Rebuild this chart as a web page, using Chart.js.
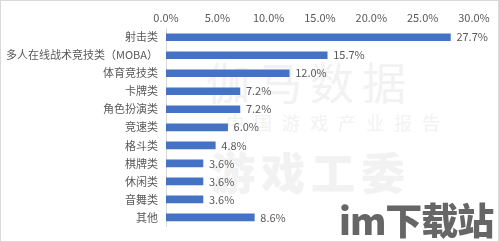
<!DOCTYPE html>
<html>
<head>
<meta charset="utf-8">
<script src="https://cdn.jsdelivr.net/npm/chart.js@4.4.0/dist/chart.umd.min.js"></script>
<style>
  html, body { margin: 0; padding: 0; background: #fff; }
  #wrap { position: relative; width: 499px; height: 242px; box-sizing: border-box; border: 1px solid #d9d9d9; overflow: hidden; }
  canvas { position: absolute; left: 0; top: 0; }
  .wm { position: absolute; color: #f2f2f2; font-family: "Noto Sans CJK SC", sans-serif; white-space: nowrap; }
  #im { position: absolute; left: 338px; top: 196px; font-family: "Noto Sans CJK SC", sans-serif; font-weight: 900; font-size: 37px; line-height: 44px; color: #666; letter-spacing: -1px; white-space: nowrap; }
</style>
</head>
<body>
<div id="wrap">
  <div class="wm" style="left:205px; top:48px; font-size:44px; letter-spacing:8px;">伽马数据</div>
  <div class="wm" style="left:225px; top:108px; font-size:18px; letter-spacing:10px;">中国游戏产业报告</div>
  <div class="wm" style="left:210px; top:138px; font-size:44px; font-weight:900; letter-spacing:6px;">游戏工委</div>
  <canvas id="chart" width="497" height="240"></canvas>
  <div id="im">im下载站</div>
</div>
<script>
const categories = ['射击类', '多人在线战术竞技类（MOBA）', '体育竞技类', '卡牌类', '角色扮演类', '竞速类', '格斗类', '棋牌类', '休闲类', '音舞类', '其他'];
const shares = [27.7, 15.7, 12.0, 7.2, 7.2, 6.0, 4.8, 3.6, 3.6, 3.6, 8.6];
const tickLabels = ['0.0%', '5.0%', '10.0%', '15.0%', '20.0%', '25.0%', '30.0%'];

const textColor = '#595959';
const fontFamily = '"Noto Sans CJK SC", "Noto Sans", sans-serif';

// draw value labels at the end of each bar
const valueLabels = {
    id: 'valueLabels',
    afterDatasetsDraw: function (chart) {
        const ctx = chart.ctx;
        const meta = chart.getDatasetMeta(0);
        ctx.save();
        ctx.fillStyle = textColor;
        ctx.font = '11px ' + fontFamily;
        ctx.textAlign = 'left';
        ctx.textBaseline = 'middle';
        meta.data.forEach(function (bar, i) {
            ctx.fillText(shares[i].toFixed(1) + '%', bar.x + 6, bar.y);
        });
        ctx.restore();
    }
};

const ctx = document.getElementById('chart').getContext('2d');
new Chart(ctx, {
    type: 'bar',
    data: {
        labels: categories,
        datasets: [{
            data: shares,
            backgroundColor: '#4472c4',
            barThickness: 7
        }]
    },
    options: {
        indexAxis: 'y',
        responsive: false,
        animation: false,
        layout: { padding: { top: 6, right: 24, bottom: 10, left: 0 } },
        plugins: {
            legend: { display: false },
            tooltip: { enabled: false }
        },
        scales: {
            x: {
                position: 'top',
                min: 0,
                max: 30,
                ticks: {
                    stepSize: 5,
                    color: textColor,
                    font: { size: 11, family: fontFamily },
                    padding: 4,
                    callback: function (v, i) { return tickLabels[i]; }
                },
                grid: { display: false, drawTicks: false },
                border: { display: false }
            },
            y: {
                afterFit: function (scale) { scale.width = 165; },
                ticks: {
                    color: textColor,
                    font: { size: 11, family: fontFamily },
                    padding: 8
                },
                grid: { display: false, drawTicks: false },
                border: { display: true, color: '#d9d9d9' }
            }
        }
    },
    plugins: [valueLabels]
});
</script>
</body>
</html>
